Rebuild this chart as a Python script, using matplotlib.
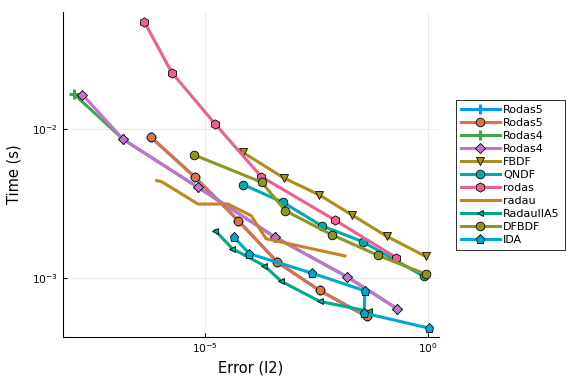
import matplotlib
matplotlib.use("Agg")
import matplotlib.pyplot as plt
from matplotlib.ticker import NullLocator, FixedLocator, LogFormatterSciNotation

# ---- data (error, time) ----
rodas5_err = [5.98e-7, 5.77e-6, 5.47e-5, 4.13e-4, 3.66e-3, 0.0412]
rodas5_t = [8.89e-3, 4.80e-3, 2.44e-3, 1.28e-3, 8.26e-4, 5.53e-4]

rodas4a_err = [1.16e-8, 1.45e-7, 6.87e-6, 3.73e-4, 0.01518, 0.199]
rodas4a_t = [0.0172, 8.57e-3, 4.08e-3, 1.88e-3, 1.02e-3, 6.24e-4]

rodas4b_err = [1.75e-8, 1.45e-7, 6.87e-6, 3.73e-4, 0.01518, 0.199]
rodas4b_t = [0.01718, 8.57e-3, 4.08e-3, 1.88e-3, 1.02e-3, 6.24e-4]

fbdf_err = [6.97e-5, 5.74e-4, 3.59e-3, 0.01905, 0.1173, 0.873]
fbdf_t = [7.01e-3, 4.72e-3, 3.63e-3, 2.67e-3, 1.91e-3, 1.40e-3]

qndf_err = [6.97e-5, 5.46e-4, 4.06e-3, 0.0336, 0.787]
qndf_t = [4.26e-3, 3.24e-3, 2.25e-3, 1.76e-3, 1.03e-3]

rodas_err = [4.27e-7, 1.77e-6, 1.67e-5, 1.79e-4, 8.18e-3, 0.193]
rodas_t = [0.0531, 0.02415, 0.01087, 4.82e-3, 2.45e-3, 1.37e-3]

radau_err = [8.15e-7, 1.04e-6, 6.87e-6, 3.21e-5, 1.07e-4, 2.31e-4, 0.01349]
radau_t = [4.53e-3, 4.46e-3, 3.15e-3, 3.15e-3, 2.63e-3, 1.84e-3, 1.41e-3]

radauiia5_err = [1.67e-5, 4.02e-5, 2.12e-4, 5.08e-4, 3.66e-3, 0.0457]
radauiia5_t = [2.09e-3, 1.58e-3, 1.21e-3, 9.51e-4, 6.98e-4, 5.98e-4]

dfbdf_err = [5.47e-6, 1.85e-4, 6.24e-4, 7.02e-3, 0.0763, 0.904]
dfbdf_t = [6.76e-3, 4.41e-3, 2.84e-3, 1.95e-3, 1.42e-3, 1.06e-3]

ida_err = [4.39e-5, 9.77e-5, 2.47e-3, 0.0378, 0.0364, 1.03]
ida_t = [1.88e-3, 1.46e-3, 1.08e-3, 8.22e-4, 5.82e-4, 4.61e-4]

series = [
    ("Rodas5", rodas5_err, rodas5_t, "#009AFA", "P"),
    ("Rodas5", rodas5_err, rodas5_t, "#E36F47", "o"),
    ("Rodas4", rodas4a_err, rodas4a_t, "#3EA44E", "P"),
    ("Rodas4", rodas4b_err, rodas4b_t, "#C371D2", "D"),
    ("FBDF", fbdf_err, fbdf_t, "#AC8E18", "v"),
    ("QNDF", qndf_err, qndf_t, "#00AAAE", "o"),
    ("rodas", rodas_err, rodas_t, "#ED5E93", "h"),
    ("radau", radau_err, radau_t, "#C68225", None),
    ("RadauIIA5", radauiia5_err, radauiia5_t, "#00A98D", "<"),
    ("DFBDF", dfbdf_err, dfbdf_t, "#8E971D", "o"),
    ("IDA", ida_err, ida_t, "#00A9CD", "p"),
]

fig = plt.figure(figsize=(6, 4), dpi=96)
ax = fig.add_axes([63/576, (384-337)/384, (439-63)/576, (337-12)/384])

for name, e, t, c, m in series:
    kw = dict(color=c, lw=2.3, label=name)
    if m is None:
        ax.plot(e, t, **kw)
    elif m == "P":
        ax.plot(e, t, marker="+", ms=7, mew=2.3, mec=c, **kw)
    else:
        ms = {"D": 5, "o": 6.5, "v": 6.5, "h": 7, "<": 5, "p": 7}[m]
        ax.plot(e, t, marker=m, ms=ms, mec="black", mew=0.6, **kw)

ax.set_xscale("log")
ax.set_yscale("log")
ax.set_xlim(10**-8.19, 10**0.24)
ax.set_ylim(10**-3.396, 10**-1.21)
ax.xaxis.set_major_locator(FixedLocator([1e-5, 1e0]))
ax.yaxis.set_major_locator(FixedLocator([1e-3, 1e-2]))
ax.xaxis.set_minor_locator(NullLocator())
ax.yaxis.set_minor_locator(NullLocator())
ax.xaxis.set_major_formatter(LogFormatterSciNotation())
ax.yaxis.set_major_formatter(LogFormatterSciNotation())
ax.tick_params(direction="in", labelsize=8, length=3, width=0.8)
ax.grid(True, color="#e6e6e6", lw=0.6)
ax.set_axisbelow(True)
for s in ["top", "right"]:
    ax.spines[s].set_visible(False)
ax.set_xlabel("Error (l2)", fontsize=11)
ax.set_ylabel("Time (s)", fontsize=11, labelpad=8)

leg = fig.legend(loc="center left", bbox_to_anchor=(456/576, 1 - 175/384), fontsize=8.3,
                 frameon=True, fancybox=False, edgecolor="black", framealpha=1,
                 handlelength=3.5, labelspacing=0.27, borderpad=0.45, handletextpad=0.3,
                 borderaxespad=0)
leg.get_frame().set_linewidth(0.6)

fig.savefig("out.png", dpi=96)
